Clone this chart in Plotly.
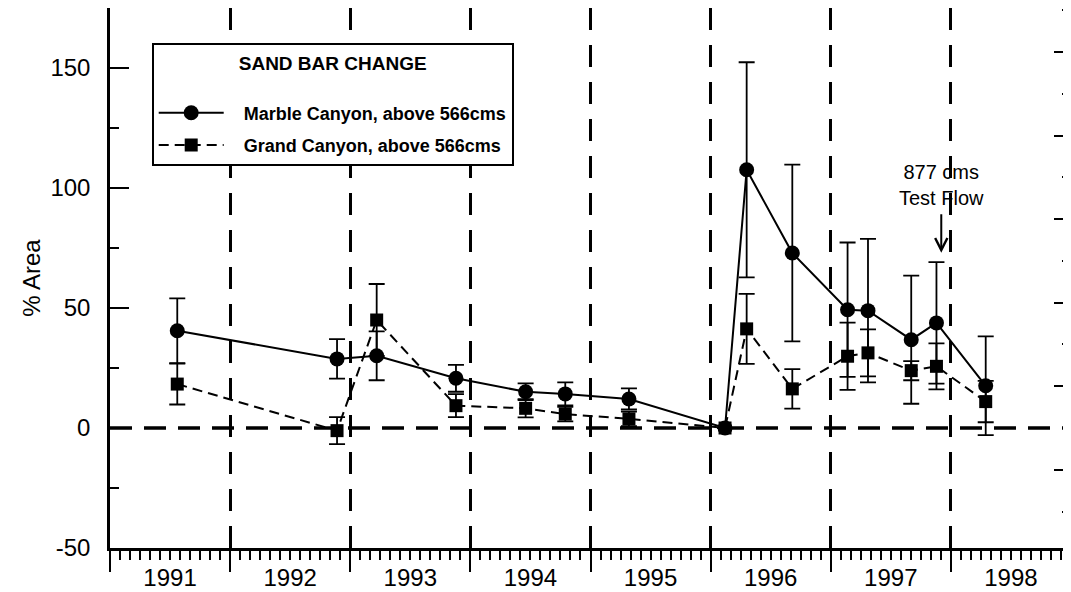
import plotly.graph_objects as go

# ---- data ----
survey_year = [1991.56, 1992.89, 1993.22, 1993.88, 1994.46, 1994.79, 1995.32, 1996.12,
               1996.30, 1996.68, 1997.14, 1997.31, 1997.67, 1997.88, 1998.29]
marble_area = [40.5, 28.8, 30.1, 20.7, 15.1, 14.2, 12.1, 0.0,
               107.6, 72.9, 49.3, 48.9, 36.8, 43.8, 17.6]
marble_err = [13.5, 8.2, 10.2, 5.6, 3.5, 4.8, 4.4, 0.0,
              44.8, 36.8, 28.0, 29.9, 26.7, 25.3, 20.6]
grand_area = [18.3, -1.1, 45.0, 9.3, 8.2, 5.8, 3.8, 0.0,
              41.3, 16.3, 29.9, 31.3, 23.9, 25.7, 11.0]
grand_err = [8.5, 5.6, 15.0, 4.8, 3.8, 3.0, 3.0, 0.0,
             14.6, 8.2, 14.0, 9.8, 4.0, 9.6, 8.6]

year_labels = ["1991", "1992", "1993", "1994", "1995", "1996", "1997", "1998"]
year_starts = [1991, 1992, 1993, 1994, 1995, 1996, 1997, 1998, 1999]
label_pos = [1991.5, 1992.5, 1993.5, 1994.5, 1995.5, 1996.5, 1997.5, 1998.5]
y_ticks = [-50, 0, 50, 100, 150]
y_tick_text = ["-50", "0", "50", "100", "150"]
zero_level = 0
test_flow_x = 1997.92
test_flow_y = 73

FONT = "Liberation Sans, Arial, Helvetica, sans-serif"
PAD = "\u00a0\u00a0\u00a0"

fig = go.Figure()

fig.add_trace(go.Scatter(
    x=survey_year, y=marble_area, name=PAD + "<b>Marble Canyon, above 566cms</b>",
    legendgroup="mc",
    mode="lines+markers",
    line=dict(color="black", width=2),
    marker=dict(symbol="circle", size=15, color="black"),
    error_y=dict(type="data", array=marble_err, visible=True, color="black",
                 thickness=1.8, width=8),
))
fig.add_trace(go.Scatter(
    x=survey_year, y=grand_area, name=PAD + "<b>Grand Canyon, above 566cms</b>",
    legendgroup="gc",
    mode="lines+markers",
    line=dict(color="black", width=2, dash="10px,6px"),
    marker=dict(symbol="square", size=13, color="black"),
    error_y=dict(type="data", array=grand_err, visible=True, color="black",
                 thickness=1.8, width=8),
))

# zero reference line (dashed, heavy)
fig.add_shape(type="line", xref="paper", x0=0, x1=1, yref="y", y0=zero_level, y1=zero_level,
              line=dict(color="black", width=3.5, dash="22px,12px"), layer="below")

# arrow and its label
fig.add_annotation(
    x=test_flow_x, y=test_flow_y, xref="x", yref="y", text="", showarrow=True,
    arrowhead=5, arrowsize=1.2, arrowwidth=2, arrowcolor="black",
    ax=0, ay=-40,
)
fig.add_annotation(
    x=test_flow_x, y=test_flow_y, xref="x", yref="y", text="877 cms<br>Test Flow",
    showarrow=False, yanchor="bottom", yshift=42,
    font=dict(family=FONT, size=20, color="black"),
)

fig.update_layout(
    width=1063, height=584,
    margin=dict(l=102, r=0, t=0, b=44),
    paper_bgcolor="white", plot_bgcolor="white",
    font=dict(family=FONT, color="black"),
    showlegend=True,
    legend=dict(
        x=0.0434, y=0.935, xanchor="left", yanchor="top",
        bordercolor="black", borderwidth=2, bgcolor="white",
        font=dict(family=FONT, size=18, color="black"),
        title=dict(text="<b>SAND BAR CHANGE</b><br>", side="top center",
                   font=dict(family=FONT, size=19, color="black")),
        itemwidth=65, traceorder="grouped", tracegroupgap=6,
    ),
    xaxis=dict(
        range=[1991, 1999], tickmode="array", tickvals=year_starts,
        showticklabels=False, ticks="outside", ticklen=21, tickwidth=2, tickcolor="black",
        showgrid=True, gridcolor="black", gridwidth=2.5, griddash="22px,15px",
        minor=dict(dtick=1/12, tick0=1991, ticks="outside", ticklen=9, tickwidth=1.5,
                   tickcolor="black", showgrid=False),
        showline=True, linecolor="black", linewidth=2.5, mirror=True,
        zeroline=False, automargin=False,
    ),
    xaxis2=dict(
        overlaying="x", anchor="y", side="bottom", range=[1991, 1999],
        tickmode="array", tickvals=label_pos, ticktext=year_labels,
        ticks="outside", ticklen=8, tickcolor="rgba(0,0,0,0)",
        tickfont=dict(family=FONT, size=24, color="black"),
        showgrid=False, showline=False, zeroline=False, automargin=False,
    ),
    yaxis=dict(
        range=[-50, 175], tickmode="array", tickvals=y_ticks, ticktext=y_tick_text,
        ticks="inside", ticklen=19, tickwidth=2, tickcolor="black",
        ticklabelstandoff=12,
        tickfont=dict(family=FONT, size=24, color="black"),
        minor=dict(dtick=25, tick0=0, ticks="inside", ticklen=9, tickwidth=1.5,
                   tickcolor="black", showgrid=False),
        showgrid=False, zeroline=False,
        showline=True, linecolor="black", linewidth=2.5,
        title=dict(text="% Area", font=dict(family=FONT, size=24, color="black"), standoff=4),
        automargin=False,
    ),
    yaxis2=dict(
        overlaying="y", side="right", anchor="x", range=[-50, 175],
        tick0=17.4, dtick=34.8, ticks="inside", ticklen=17, tickwidth=2, tickcolor="black",
        minor=dict(tick0=0, dtick=17.4, ticks="inside", ticklen=9, tickwidth=1.5,
                   tickcolor="black", showgrid=False),
        showticklabels=False, showgrid=False, zeroline=False,
        showline=True, linecolor="black", linewidth=2.5, automargin=False,
    ),
)

# attach an invisible trace to the secondary axes so they render
fig.add_trace(go.Scatter(x=[1991], y=[0], xaxis="x2", yaxis="y2", mode="markers",
                         marker=dict(opacity=0), showlegend=False, hoverinfo="skip"))

fig.write_html("out.html")
